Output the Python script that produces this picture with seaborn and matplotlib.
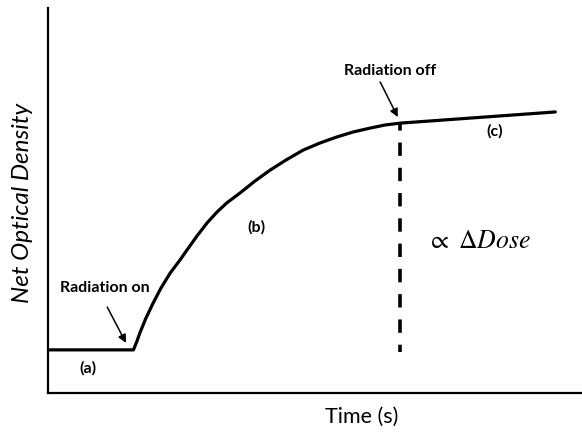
import matplotlib
matplotlib.use("Agg")
import matplotlib.pyplot as plt
import seaborn as sns
import pandas as pd

# Response curve: flat baseline (a), growth during irradiation (b), slow post-exposure drift (c)
time = [0.0, 1.6, 1.667, 1.72, 1.835, 1.97, 2.116, 2.29, 2.472, 2.6, 2.79, 2.98,
        3.165, 3.35, 3.6, 3.876, 4.16, 4.457, 4.78, 5.094, 5.41, 5.712, 6.03,
        6.311, 6.6, 9.5]
net_od = [1.12, 1.12, 1.351, 1.56, 1.948, 2.34, 2.727, 3.12, 3.455, 3.71, 4.078,
          4.42, 4.701, 4.94, 5.2, 5.506, 5.79, 6.052, 6.31, 6.494, 6.65, 6.779,
          6.88, 6.961, 7.01, 7.3]

t_on = 1.6
t_off = 6.6
od_off = 7.01
od_base = 1.06

sns.set_theme(style="white")
plt.rcParams["font.family"] = ["Lato", "DejaVu Sans"]
plt.rcParams["mathtext.fontset"] = "stix"
plt.rcParams["text.color"] = "black"
plt.rcParams["axes.labelcolor"] = "black"

fig = plt.figure(figsize=(5.82, 4.37), dpi=100)
ax = fig.add_axes([0.0825, 0.1007, 0.9175, 0.881])

df = pd.DataFrame({"Time": time, "OD": net_od})
sns.lineplot(data=df, x="Time", y="OD", ax=ax, color="black", linewidth=2.3,
             sort=False, estimator=None, solid_joinstyle="round")

# dose-proportional drop line at the end of irradiation
ax.plot([t_off, t_off], [od_off, od_base], color="black", linewidth=2.6,
        linestyle=(1.6, (3.7, 3.3)), solid_capstyle="butt")

ax.set_xlim(0, 10)
ax.set_ylim(0, 10)
ax.set_xticks([])
ax.set_yticks([])
for side in ("top", "right"):
    ax.spines[side].set_visible(False)
for side in ("left", "bottom"):
    ax.spines[side].set_color("black")
    ax.spines[side].set_linewidth(1.6)

ax.set_xlabel("Time (s)", fontsize=15.5, color="black")
ax.xaxis.set_label_coords(0.588, -0.035, transform=ax.transAxes)
ax.xaxis.label.set_va("top")
ax.set_ylabel("Net Optical Density", fontsize=17.5, style="italic", color="black")
ax.yaxis.set_label_coords(-0.028, 0.494, transform=ax.transAxes)

bold = dict(fontsize=11.5, fontweight="bold", ha="center", va="center", color="black")
ax.text(1.06, 2.73, "Radiation on", **bold)
ax.text(0.75, 0.65, "(a)", **bold)
ax.text(3.91, 4.3, "(b)", **bold)
ax.text(6.40, 8.37, "Radiation off", **bold)
ax.text(8.37, 6.8, "(c)", **bold)

ax.annotate("", xy=(1.46, 1.3), xytext=(1.11, 2.23),
            arrowprops=dict(arrowstyle="-|>", color="black", lw=1.1,
                            mutation_scale=12, shrinkA=0, shrinkB=0))
ax.annotate("", xy=(6.55, 7.167), xytext=(6.22, 8.08),
            arrowprops=dict(arrowstyle="-|>", color="black", lw=1.1,
                            mutation_scale=12, shrinkA=0, shrinkB=0))

ax.text(7.1, 3.95, r"$\propto\ \Delta Dose$", fontsize=18.5, ha="left",
        va="center", color="black")

fig.savefig("out.png", dpi=100)
